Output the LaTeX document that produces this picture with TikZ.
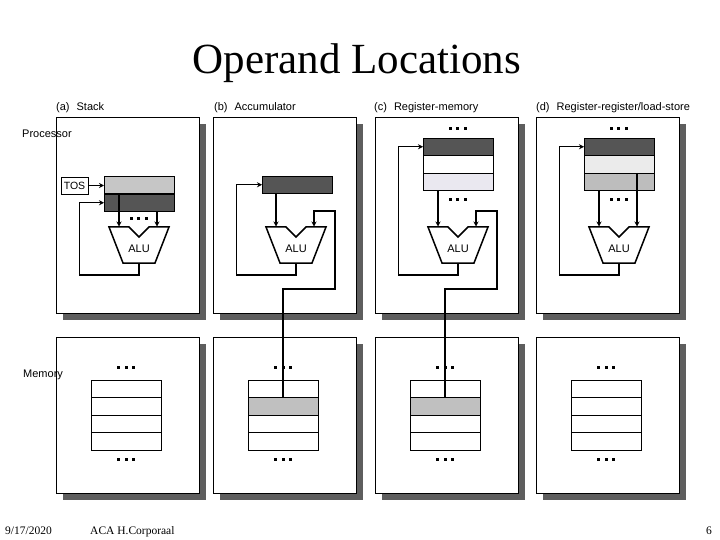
\documentclass[tikz,border=0pt]{standalone}
\usepackage{fontspec}
\setmainfont{Liberation Serif}
\setsansfont{Liberation Sans}
\usetikzlibrary{arrows.meta}
\definecolor{shade}{HTML}{5E5E5E}
\definecolor{regdark}{HTML}{555555}
\definecolor{reglight}{HTML}{C6C6C6}
\definecolor{memgray}{HTML}{C0C0C0}
\definecolor{lav}{HTML}{EAE8F0}
\definecolor{pale}{HTML}{EBEBEB}
\definecolor{midgray}{HTML}{BDBDBD}
\tikzset{
  panelshadow/.style={fill=shade},
  procbox/.style={draw=black, fill=white, line width=0.6pt, minimum width=143pt, minimum height=196pt, inner sep=0pt, outer sep=0pt, anchor=north west},
  membox/.style={draw=black, fill=white, line width=0.6pt, minimum width=143pt, minimum height=156pt, inner sep=0pt, outer sep=0pt, anchor=north west},
  regbox/.style={draw=black, line width=0.6pt, minimum width=70pt, minimum height=17.5pt, inner sep=0pt, outer sep=0pt, anchor=north west},
  memrow/.style={draw=black, line width=0.6pt, fill=white, minimum width=70pt, minimum height=17.5pt, inner sep=0pt, outer sep=0pt, anchor=north west},
  tosbox/.style={draw=black, line width=0.9pt, fill=white, minimum width=27pt, minimum height=17pt, inner sep=0pt, font=\sffamily\fontsize{10.5}{12}\selectfont},
  feed/.style={line width=1.5pt, -{Stealth[length=5pt,width=5pt]}},
  lbl/.style={font=\sffamily\fontsize{11}{13}\selectfont, inner sep=0pt, anchor=base west},
  alutext/.style={font=\sffamily\fontsize{11}{13}\selectfont, inner sep=0pt},
  alu/.style={draw=black, line width=1.5pt, fill=white, line join=miter},
  foot/.style={font=\fontsize{11.5}{13}\selectfont, inner sep=0pt, anchor=base west},
  dotthree/.pic={\foreach \i in {-7.5,0,7.5} \fill (\i-1.5,-1.5) rectangle ++(3,3);},
  alushape/.pic={\draw[alu] (-30,0) -- (-10,0) -- (0,10) -- (10,0) -- (30,0) -- (16,36) -- (-16,36) -- cycle;}
}
\begin{document}
\begin{tikzpicture}[x=1pt,y=-1pt]
\useasboundingbox (0,0) rectangle (720,540);
\fill[white] (0,0) rectangle (720,540);

\node[font=\fontsize{43}{50}\selectfont, anchor=base, inner sep=0pt] (title) at (357,74) {Operand Locations};

% ---------------- panel (a) ----------------
\begin{scope}[shift={(56,0)}]
  \fill[panelshadow] (7,124) rectangle (150,320);
  \node[procbox] (aP) at (0,117) {};
  \fill[panelshadow] (7,344) rectangle (150,500);
  \node[membox] (aMB) at (0,337) {};
  \node[lbl] (aL) at (0,111) {(a)\hspace{7pt}Stack};
  \node[regbox, fill=reglight] (aR1) at (48,176) {};
  \node[regbox, fill=regdark] (aR2) at (48,194) {};
  \node[tosbox] (aTOS) at (18.5,185.5) {TOS};
  \draw[feed] (aTOS.east) -- (aTOS.east -| aR1.west);
  \pic at (82.5,219) {dotthree};
  \pic at (83,227) {alushape};
  \node[alutext] (aALU) at (83,249) {ALU};
  \coordinate (aInL) at (63,226.5);
  \coordinate (aInR) at (101,226.5);
  \coordinate (aOut) at (83,263);
  \coordinate (aBend) at (23.5,275);
  \draw[feed] (aR1.south -| aInL) -- (aInL);
  \draw[feed] (aR2.south -| aInR) -- (aInR);
  \draw[feed] (aOut) |- (aBend) |- (aR2.west);
  \pic at (70,367) {dotthree};
  \node[memrow] (aM1) at (35,380) {};
  \node[memrow] (aM2) at (35,397.5) {};
  \node[memrow] (aM3) at (35,415) {};
  \node[memrow] (aM4) at (35,432.5) {};
  \pic at (70,459) {dotthree};
\end{scope}

% ---------------- panel (b) ----------------
\begin{scope}[shift={(213,0)}]
  \fill[panelshadow] (7,124) rectangle (150,320);
  \node[procbox] (bP) at (0,117) {};
  \fill[panelshadow] (7,344) rectangle (150,500);
  \node[membox] (bMB) at (0,337) {};
  \node[lbl] (bL) at (1,111) {(b)\hspace{7pt}Accumulator};
  \node[regbox, fill=regdark] (bR1) at (49,176) {};
  \pic at (83,227) {alushape};
  \node[alutext] (bALU) at (83,249) {ALU};
  \coordinate (bInL) at (63,226.5);
  \coordinate (bInR) at (101,226.5);
  \coordinate (bOut) at (83,263);
  \coordinate (bBend) at (23.5,275);
  \draw[feed] (bR1.south -| bInL) -- (bInL);
  \draw[feed] (bOut) |- (bBend) |- (bR1.west);
  \pic at (70,367) {dotthree};
  \node[memrow] (bM1) at (35,380) {};
  \node[memrow, fill=memgray] (bM2) at (35,397.5) {};
  \node[memrow] (bM3) at (35,415) {};
  \node[memrow] (bM4) at (35,432.5) {};
  \pic at (70,459) {dotthree};
  \coordinate (bB1) at (122,289);
  \coordinate (bB2) at (101,211);
  \draw[feed] (bM2.north) |- (bB1) |- (bB2) -- (bInR);
\end{scope}

% ---------------- panel (c) ----------------
\begin{scope}[shift={(375,0)}]
  \fill[panelshadow] (7,124) rectangle (150,320);
  \node[procbox] (cP) at (0,117) {};
  \fill[panelshadow] (7,344) rectangle (150,500);
  \node[membox] (cMB) at (0,337) {};
  \node[lbl] (cL) at (-1,111) {(c)\hspace{7pt}Register-memory};
  \pic at (82.5,129) {dotthree};
  \node[regbox, fill=regdark] (cR1) at (48,138) {};
  \node[regbox, fill=white] (cR2) at (48,155.5) {};
  \node[regbox, fill=lav] (cR3) at (48,173) {};
  \pic at (82.5,200) {dotthree};
  \pic at (83,227) {alushape};
  \node[alutext] (cALU) at (83,249) {ALU};
  \coordinate (cInL) at (63,226.5);
  \coordinate (cInR) at (101,226.5);
  \coordinate (cOut) at (83,263);
  \coordinate (cBend) at (23.5,275);
  \draw[feed] (cR3.south -| cInL) -- (cInL);
  \draw[feed] (cOut) |- (cBend) |- (cR1.west);
  \pic at (70,367) {dotthree};
  \node[memrow] (cM1) at (35,380) {};
  \node[memrow, fill=memgray] (cM2) at (35,397.5) {};
  \node[memrow] (cM3) at (35,415) {};
  \node[memrow] (cM4) at (35,432.5) {};
  \pic at (70,459) {dotthree};
  \coordinate (cB1) at (122,289);
  \coordinate (cB2) at (101,211);
  \draw[feed] (cM2.north) |- (cB1) |- (cB2) -- (cInR);
\end{scope}

% ---------------- panel (d) ----------------
\begin{scope}[shift={(536,0)}]
  \fill[panelshadow] (7,124) rectangle (150,320);
  \node[procbox] (dP) at (0,117) {};
  \fill[panelshadow] (7,344) rectangle (150,500);
  \node[membox] (dMB) at (0,337) {};
  \node[lbl] (dL) at (0,111) {(d)\hspace{7pt}Register-register/load-store};
  \pic at (82.5,129) {dotthree};
  \node[regbox, fill=regdark] (dR1) at (48,138) {};
  \node[regbox, fill=pale] (dR2) at (48,155.5) {};
  \node[regbox, fill=midgray] (dR3) at (48,173) {};
  \pic at (82.5,200) {dotthree};
  \pic at (83,227) {alushape};
  \node[alutext] (dALU) at (83,249) {ALU};
  \coordinate (dInL) at (63,226.5);
  \coordinate (dInR) at (101,226.5);
  \coordinate (dOut) at (83,263);
  \coordinate (dBend) at (23.5,275);
  \draw[feed] (dR3.south -| dInL) -- (dInL);
  \draw[feed] (dR2.south -| dInR) -- (dInR);
  \draw[feed] (dOut) |- (dBend) |- (dR1.west);
  \pic at (70,367) {dotthree};
  \node[memrow] (dM1) at (35,380) {};
  \node[memrow] (dM2) at (35,397.5) {};
  \node[memrow] (dM3) at (35,415) {};
  \node[memrow] (dM4) at (35,432.5) {};
  \pic at (70,459) {dotthree};
\end{scope}

\node[lbl] (proc) at (22,138) {Processor};
\node[lbl] (mem) at (23,377) {Memory};

\node[foot] (date) at (5,534) {9/17/2020};
\node[foot] (auth) at (90,534) {ACA H.Corporaal};
\node[foot, anchor=base east] (page) at (712,534) {6};
\end{tikzpicture}
\end{document}
